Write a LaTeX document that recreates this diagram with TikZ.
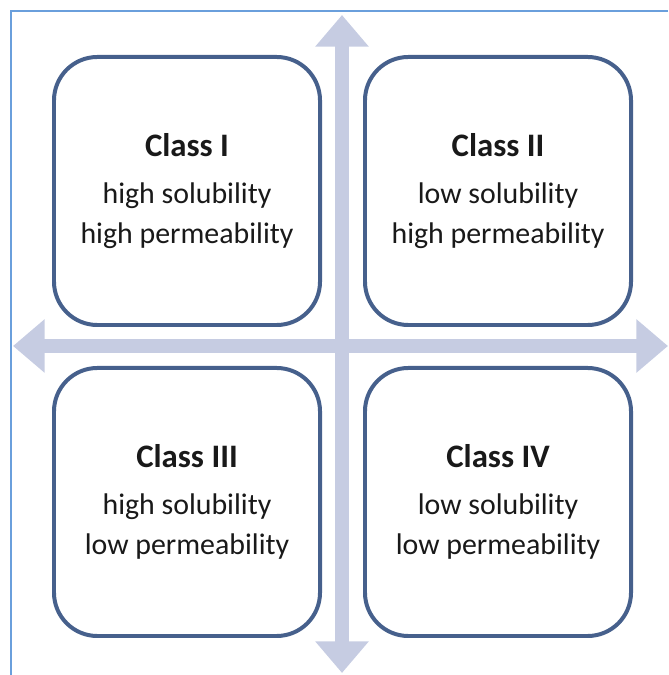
\documentclass[tikz,border=0pt]{standalone}
\usepackage{fontspec}
\setmainfont{Carlito}
\usepackage{tikz}
\usetikzlibrary{arrows.meta,positioning}
\definecolor{boxblue}{HTML}{46608C}
\definecolor{axisgray}{HTML}{C6CCE2}
\definecolor{framebl}{HTML}{6A9FDC}
\tikzset{
  classbox/.style={draw=boxblue, line width=3.4pt, fill=white, rounded corners=1.3cm,
    minimum width=7.98cm, minimum height=8.04cm, align=center, text=black!90,
    font=\fontsize{25.5}{34}\selectfont},
  axis/.style={draw=axisgray, line width=12pt,
    {Triangle[width=44pt,length=27pt]}-{Triangle[width=44pt,length=27pt]}}
}
\newcommand{\classtitle}[1]{{\fontsize{28}{34}\selectfont\bfseries #1}\\[6pt]}
\begin{document}
\begin{tikzpicture}[x=0.03cm,y=0.03cm]
		\useasboundingbox (0,0) rectangle (668,675);
		%frame
		\draw[framebl,line width=1.6pt] (11,0) -- (11,664) -- (668,664);
		%axes
		\coordinate (w) at (13,329);
		\coordinate (e) at (668,329);
		\coordinate (n) at (342,660);
		\coordinate (s) at (342,2);
		\draw[axis] (w) -- (e);
		\draw[axis] (s) -- (n);
		%classes
		\node[classbox] (c1) at (187,484) {\classtitle{Class I}high solubility\\high permeability};
		\node[classbox] (c2) at (498,484) {\classtitle{Class II}low solubility\\high permeability};
		\node[classbox] (c3) at (187,173) {\classtitle{Class III}high solubility\\low permeability};
		\node[classbox] (c4) at (498,173) {\classtitle{Class IV}low solubility\\low permeability};
	\end{tikzpicture}
\end{document}
